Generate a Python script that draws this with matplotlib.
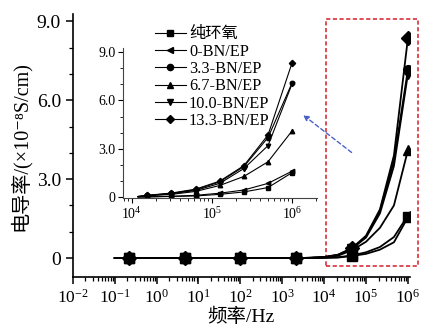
import matplotlib
matplotlib.use("Agg")
import matplotlib.pyplot as plt
from matplotlib.ticker import FixedLocator, FuncFormatter, LogLocator, MultipleLocator
from matplotlib.patches import Rectangle

plt.rcParams['font.family'] = ['Liberation Serif', 'Noto Sans CJK SC', 'DejaVu Serif']
plt.rcParams['mathtext.fontset'] = 'stix'

labels = ['纯环氧', '0-BN/EP', '3.3-BN/EP', '6.7-BN/EP', '10.0-BN/EP', '13.3-BN/EP']
markers = ['s', '<', 'o', '^', 'v', 'D']

# main plot: 1/3-decade steps from 1e-1 to 1e6
freq_main = [0.1, 0.215, 0.464, 1.0, 2.15, 4.64, 10.0, 21.5, 46.4, 100.0, 215.0,
             464.0, 1.0e3, 2.15e3, 4.64e3, 1.0e4, 2.15e4, 4.64e4, 1.0e5, 2.15e5,
             4.64e5, 1.0e6]
zeros_low = [0.0] * 13
main_ep = zeros_low + [0.0, 0.0, 0.01, 0.02, 0.08, 0.16, 0.32, 0.6, 1.55]
main_0 = zeros_low + [0.0, 0.0, 0.01, 0.03, 0.1, 0.22, 0.42, 0.8, 1.62]
main_33 = zeros_low + [0.0, 0.01, 0.04, 0.12, 0.37, 0.82, 1.8, 3.7, 7.15]
main_67 = zeros_low + [0.0, 0.01, 0.03, 0.09, 0.3, 0.62, 1.15, 2.0, 4.1]
main_100 = zeros_low + [0.0, 0.01, 0.03, 0.11, 0.36, 0.78, 1.7, 3.5, 7.0]
main_133 = zeros_low + [0.0, 0.01, 0.04, 0.13, 0.38, 0.85, 1.85, 3.9, 8.35]

# inset: 1e4 .. 1e6
freq_in = [1.2e4, 15625, 31250, 62500, 125000, 250000, 500000, 1.0e6]
in_ep = [0.01, 0.02, 0.05, 0.08, 0.18, 0.33, 0.6, 1.53]
in_0 = [0.01, 0.03, 0.06, 0.12, 0.25, 0.45, 0.86, 1.62]
in_33 = [0.05, 0.11, 0.24, 0.47, 0.95, 1.9, 3.7, 7.1]
in_67 = [0.04, 0.09, 0.18, 0.36, 0.73, 1.29, 2.2, 4.12]
in_100 = [0.04, 0.1, 0.22, 0.42, 0.86, 1.78, 3.2, 7.04]
in_133 = [0.05, 0.12, 0.26, 0.5, 1.0, 1.96, 3.86, 8.35]

main_series = [main_ep, main_0, main_33, main_67, main_100, main_133]
in_series = [in_ep, in_0, in_33, in_67, in_100, in_133]

fig = plt.figure(figsize=(4.21, 3.29), dpi=100)
ax = fig.add_axes([0.173, 0.158, 0.80, 0.799])

for ys, m in zip(main_series, markers):
    ax.plot(freq_main, ys, color='black', lw=1.3, marker=m, ms=7,
            markevery=(1, 4))

ax.set_xscale('log')
ax.set_xlim(1e-2, 1.1e6)
ax.set_ylim(-0.72, 9.27)
ax.xaxis.set_major_locator(FixedLocator([10.0 ** k for k in range(-2, 7)]))
ax.xaxis.set_minor_locator(LogLocator(base=10, subs=range(2, 10), numticks=20))
ax.yaxis.set_major_locator(FixedLocator([0, 3, 6, 9]))
ax.yaxis.set_minor_locator(MultipleLocator(1))
fmt_y = FuncFormatter(lambda v, p: '0' if v == 0 else f'{v:.1f}')
ax.yaxis.set_major_formatter(fmt_y)
for s in ['top', 'right']:
    ax.spines[s].set_visible(False)
for s in ['left', 'bottom']:
    ax.spines[s].set_linewidth(1.2)
ax.tick_params(which='major', direction='out', length=5, width=1.1, labelsize=14)
ax.tick_params(axis='x', which='major', labelsize=12.5)
ax.tick_params(which='minor', direction='out', length=3, width=0.9)
ax.set_xlabel('频率/Hz', fontsize=14, labelpad=1)
ax.set_ylabel('电导率/(×10⁻⁸S/cm)', fontsize=14.5, labelpad=4)

# red dashed box around the high-frequency region
ax.add_patch(Rectangle((1.12e4, -0.3), 1.7e6 - 1.12e4, 9.38, fill=False,
                       ec='#d8303a', lw=1.2, ls=(0, (2.5, 1.5)), clip_on=False))
ax.annotate('', xy=(2.8e3, 5.5), xytext=(5.1e4, 3.95),
            arrowprops=dict(arrowstyle='-|>', color='#4a62c8', lw=1.0,
                            ls=(0, (3, 2)), mutation_scale=8))

# inset
axi = fig.add_axes([0.292, 0.398, 0.461, 0.456])
lines = []
for ys, m, lab in zip(in_series, markers, labels):
    ln, = axi.plot(freq_in, ys, color='black', lw=0.8, marker=m, ms=3.2,
                   markevery=(1, 1), label=lab)
    lines.append(ln)
axi.set_xscale('log')
axi.set_xlim(10 ** 3.89, 10 ** 6.31)
axi.set_ylim(-0.05, 9.25)
axi.xaxis.set_major_locator(FixedLocator([1e4, 1e5, 1e6]))
axi.xaxis.set_minor_locator(LogLocator(base=10, subs=range(2, 10), numticks=20))
axi.yaxis.set_major_locator(FixedLocator([0, 3, 6, 9]))
axi.yaxis.set_minor_locator(MultipleLocator(1))
axi.yaxis.set_major_formatter(fmt_y)
for s in ['top', 'right']:
    axi.spines[s].set_visible(False)
for s in ['left', 'bottom']:
    axi.spines[s].set_linewidth(0.8)
    axi.spines[s].set_color('#444444')
axi.tick_params(which='major', direction='out', length=3.5, width=0.8, labelsize=10, pad=2)
axi.tick_params(which='minor', direction='out', length=2, width=0.6)
axi.patch.set_alpha(0)

leg = axi.legend(handles=lines, loc='upper left', bbox_to_anchor=(0.368, 0.92),
                 bbox_transform=fig.transFigure, frameon=False, fontsize=11.7,
                 borderaxespad=0, borderpad=0, handlelength=1.9,
                 handletextpad=0.2, labelspacing=0.08, markerscale=1.4)

fig.savefig('out.png', dpi=100)
